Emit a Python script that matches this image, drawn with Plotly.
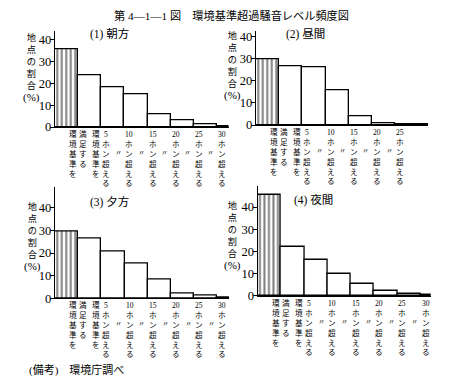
import re
import plotly.graph_objects as go

# ---------------- data ----------------
main_title = "第 4—1—1 図　環境基準超過騒音レベル頻度図"
panel_titles = ["(1) 朝方", "(2) 昼間", "(3) 夕方", "(4) 夜間"]
y_title = "地点の割合"
y_unit = "(%)"
note = "(備考)　環境庁調べ"

# labels at the bin edges (left column / right column, read left to right)
edge_left = ["環境基準を", "環境基準を", "〃", "〃", "〃", "〃", "〃"]
edge_right = ["満足する", "5ホン超える", "10ホン超える", "15ホン超える",
              "20ホン超える", "25ホン超える", "30ホン超える"]

y_ticks = [0, 10, 20, 30, 40]

asa = [35.5, 24.0, 18.2, 15.1, 6.0, 3.3, 1.2, 0.3]      # (1) 朝方
hiru = [29.5, 26.4, 25.8, 15.5, 4.0, 0.9, 0.3]          # (2) 昼間
yugata = [29.3, 26.3, 20.6, 15.3, 8.2, 1.9, 1.0, 0.4]   # (3) 夕方
yakan = [45.5, 22.0, 16.3, 10.0, 5.3, 2.2, 1.0, 0.3]    # (4) 夜間

series = [asa, hiru, yugata, yakan]

# ---------------- layout ----------------
W, H = 467, 385
FONT = "Liberation Serif, Noto Sans CJK JP, serif"


def fx(px):
    return px / W


def fy(py):
    return 1 - py / H


# pixel geometry of each panel: left, right, baseline, top, y max, x max, last-bar width
panels = [
    dict(l=55, r=228.5, b=128, t=30, ymax=44.0, xmax=7.5, lw=0.5,
         title=(109, 33), ytit=(31, 68)),
    dict(l=256, r=428, b=126, t=30, ymax=42.2, xmax=7.42, lw=1.42,
         title=(305, 33), ytit=(232, 65.5)),
    dict(l=55, r=229, b=303.3, t=189, ymax=49.4, xmax=7.5, lw=0.5,
         title=(109, 205), ytit=(32, 241)),
    dict(l=257.7, r=431, b=301, t=188.3, ymax=49.5, xmax=7.45, lw=0.45,
         title=(313, 203), ytit=(232, 240)),
]


def vert(s):
    m = re.match(r"(\d+)(.*)", s)
    parts = []
    rest = s
    if m:
        parts.append(m.group(1))
        rest = m.group(2)
    parts += list(rest)
    return "<br>".join(parts)


fig = go.Figure()
annotations = []

for k, (vals, p) in enumerate(zip(series, panels)):
    n = len(vals)
    xs, ws = [], []
    for i in range(n):
        w = p["lw"] if i == n - 1 else 1.0
        xs.append(i + w / 2)
        ws.append(w)
    shapes = ["|"] + [""] * (n - 1)
    suffix = "" if k == 0 else str(k + 1)
    fig.add_trace(go.Bar(
        x=xs, y=vals, width=ws,
        xaxis="x" + suffix, yaxis="y" + suffix,
        marker=dict(color="white",
                    line=dict(color="black", width=1.3),
                    pattern=dict(shape=shapes, fgcolor="black", bgcolor="white",
                                 size=4.5, solidity=0.45)),
        showlegend=False, hoverinfo="skip",
    ))
    xa = dict(domain=[fx(p["l"]), fx(p["r"])], range=[0, p["xmax"]],
              showline=True, linecolor="black", linewidth=1.3,
              showgrid=False, zeroline=False, showticklabels=False, ticks="",
              anchor="y" + suffix, fixedrange=True)
    ya = dict(domain=[fy(p["b"]), fy(p["t"])], range=[0, p["ymax"]],
              showline=True, linecolor="black", linewidth=1.3,
              showgrid=False, zeroline=False,
              tickvals=y_ticks, ticktext=[str(v) for v in y_ticks],
              ticks="outside", ticklen=4, tickwidth=1.2, tickcolor="black",
              ticklabelstandoff=-4,
              tickfont=dict(family=FONT, size=12.5, color="black"),
              anchor="x" + suffix, fixedrange=True)
    fig.update_layout(**{"xaxis" + suffix: xa, "yaxis" + suffix: ya})

    # edge labels
    for e in range(n - 1):
        edge = e + 1
        left = edge_left[e]
        right = edge_right[e]
        lsize = 7.0 if left == "〃" else 7.6
        lshift = -6 if left == "〃" else -5
        lyshift = -20 if left == "〃" else -1
        annotations.append(dict(
            x=edge, y=0, xref="x" + suffix, yref="y" + suffix,
            text=vert(left), showarrow=False, xanchor="center", yanchor="top",
            xshift=lshift, yshift=lyshift,
            font=dict(family=FONT, size=lsize, color="black")))
        annotations.append(dict(
            x=edge, y=0, xref="x" + suffix, yref="y" + suffix,
            text=vert(right), showarrow=False, xanchor="center", yanchor="top",
            xshift=5, yshift=-1,
            font=dict(family=FONT, size=7.6, color="black")))

    # panel title
    tx, ty = p["title"]
    annotations.append(dict(
        x=fx(tx), y=fy(ty), xref="paper", yref="paper", text=panel_titles[k],
        showarrow=False, xanchor="center", yanchor="middle",
        font=dict(family=FONT, size=11.5, color="black")))

    # y axis title (vertical)
    yx, yy = p["ytit"]
    annotations.append(dict(
        x=fx(yx), y=fy(yy), xref="paper", yref="paper",
        text="<br>".join(list(y_title))
        + "<br><span style='font-size:11px'>" + y_unit + "</span>",
        showarrow=False, xanchor="center", yanchor="middle",
        font=dict(family=FONT, size=9.2, color="black")))

annotations.append(dict(
    x=fx(231), y=fy(14), xref="paper", yref="paper", text=main_title,
    showarrow=False, xanchor="center", yanchor="middle",
    font=dict(family=FONT, size=11.2, color="black")))
annotations.append(dict(
    x=fx(27), y=fy(377), xref="paper", yref="paper", text=note,
    showarrow=False, xanchor="left", yanchor="middle",
    font=dict(family=FONT, size=11, color="black")))

fig.update_layout(
    width=W, height=H,
    margin=dict(l=0, r=0, t=0, b=0),
    paper_bgcolor="white", plot_bgcolor="white",
    bargap=0,
    annotations=annotations,
)

fig.write_html(
    "out.html",
    config={"displayModeBar": False},
    post_script="document.body.style.margin='0';document.body.style.overflow='hidden';",
)
